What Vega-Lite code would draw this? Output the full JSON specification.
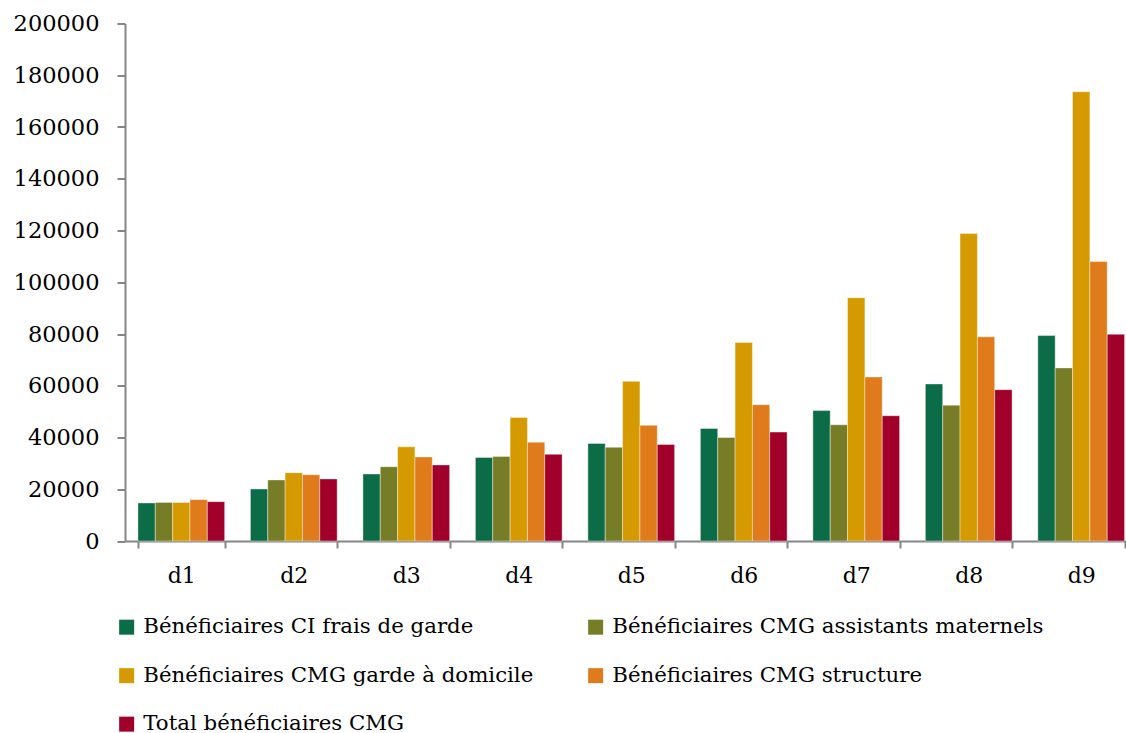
{
  "$schema": "https://vega.github.io/schema/vega-lite/v6.json",
  "autosize": {"type": "none"},
  "width": 1001,
  "height": 517.5,
  "padding": {"left": 125, "top": 23.5, "right": 0, "bottom": 192},
  "background": "white",
  "config": {
    "view": {"stroke": null},
    "font": "DejaVu Serif"
  },
  "data": {
    "values": [
      {"d": "d1", "s": "Bénéficiaires CI frais de garde", "v": 14700},
      {"d": "d1", "s": "Bénéficiaires CMG assistants maternels", "v": 14900},
      {"d": "d1", "s": "Bénéficiaires CMG garde à domicile", "v": 14900},
      {"d": "d1", "s": "Bénéficiaires CMG structure", "v": 16000},
      {"d": "d1", "s": "Total bénéficiaires CMG", "v": 15200},
      {"d": "d2", "s": "Bénéficiaires CI frais de garde", "v": 20100},
      {"d": "d2", "s": "Bénéficiaires CMG assistants maternels", "v": 23600},
      {"d": "d2", "s": "Bénéficiaires CMG garde à domicile", "v": 26400},
      {"d": "d2", "s": "Bénéficiaires CMG structure", "v": 25600},
      {"d": "d2", "s": "Total bénéficiaires CMG", "v": 24000},
      {"d": "d3", "s": "Bénéficiaires CI frais de garde", "v": 25900},
      {"d": "d3", "s": "Bénéficiaires CMG assistants maternels", "v": 28700},
      {"d": "d3", "s": "Bénéficiaires CMG garde à domicile", "v": 36400},
      {"d": "d3", "s": "Bénéficiaires CMG structure", "v": 32500},
      {"d": "d3", "s": "Total bénéficiaires CMG", "v": 29400},
      {"d": "d4", "s": "Bénéficiaires CI frais de garde", "v": 32300},
      {"d": "d4", "s": "Bénéficiaires CMG assistants maternels", "v": 32700},
      {"d": "d4", "s": "Bénéficiaires CMG garde à domicile", "v": 47700},
      {"d": "d4", "s": "Bénéficiaires CMG structure", "v": 38200},
      {"d": "d4", "s": "Total bénéficiaires CMG", "v": 33500},
      {"d": "d5", "s": "Bénéficiaires CI frais de garde", "v": 37700},
      {"d": "d5", "s": "Bénéficiaires CMG assistants maternels", "v": 36200},
      {"d": "d5", "s": "Bénéficiaires CMG garde à domicile", "v": 61700},
      {"d": "d5", "s": "Bénéficiaires CMG structure", "v": 44700},
      {"d": "d5", "s": "Total bénéficiaires CMG", "v": 37300},
      {"d": "d6", "s": "Bénéficiaires CI frais de garde", "v": 43500},
      {"d": "d6", "s": "Bénéficiaires CMG assistants maternels", "v": 40000},
      {"d": "d6", "s": "Bénéficiaires CMG garde à domicile", "v": 76700},
      {"d": "d6", "s": "Bénéficiaires CMG structure", "v": 52700},
      {"d": "d6", "s": "Total bénéficiaires CMG", "v": 42100},
      {"d": "d7", "s": "Bénéficiaires CI frais de garde", "v": 50400},
      {"d": "d7", "s": "Bénéficiaires CMG assistants maternels", "v": 44900},
      {"d": "d7", "s": "Bénéficiaires CMG garde à domicile", "v": 94000},
      {"d": "d7", "s": "Bénéficiaires CMG structure", "v": 63400},
      {"d": "d7", "s": "Total bénéficiaires CMG", "v": 48400},
      {"d": "d8", "s": "Bénéficiaires CI frais de garde", "v": 60700},
      {"d": "d8", "s": "Bénéficiaires CMG assistants maternels", "v": 52500},
      {"d": "d8", "s": "Bénéficiaires CMG garde à domicile", "v": 118800},
      {"d": "d8", "s": "Bénéficiaires CMG structure", "v": 78900},
      {"d": "d8", "s": "Total bénéficiaires CMG", "v": 58500},
      {"d": "d9", "s": "Bénéficiaires CI frais de garde", "v": 79400},
      {"d": "d9", "s": "Bénéficiaires CMG assistants maternels", "v": 66900},
      {"d": "d9", "s": "Bénéficiaires CMG garde à domicile", "v": 173600},
      {"d": "d9", "s": "Bénéficiaires CMG structure", "v": 108000},
      {"d": "d9", "s": "Total bénéficiaires CMG", "v": 79900}
    ]
  },
  "mark": {"type": "bar", "stroke": "#ffffff", "strokeWidth": 0.8, "strokeOpacity": 0.5},
  "encoding": {
    "x": {
      "field": "d",
      "type": "nominal",
      "scale": {"range": [0, 1012.5], "paddingInner": 0.229, "paddingOuter": 0.115},
      "axis": {
        "title": null,
        "labelAngle": 0,
        "labelFont": "DejaVu Serif",
        "labelFontSize": 22,
        "labelColor": "#000000",
        "labelPadding": 17,
        "tickBand": "extent",
        "tickSize": 7,
        "tickWidth": 2,
        "tickColor": "#868686",
        "domainColor": "#868686",
        "domainWidth": 2
      }
    },
    "xOffset": {
      "field": "s",
      "type": "nominal",
      "sort": null,
      "scale": {"paddingInner": 0, "paddingOuter": 0}
    },
    "y": {
      "field": "v",
      "type": "quantitative",
      "scale": {"domain": [0, 200000], "nice": false},
      "axis": {
        "title": null,
        "values": [0, 20000, 40000, 60000, 80000, 100000, 120000, 140000, 160000, 180000, 200000],
        "format": "d",
        "grid": false,
        "labelFont": "DejaVu Serif",
        "labelFontSize": 22.5,
        "labelColor": "#000000",
        "labelPadding": 18,
        "tickSize": 8,
        "tickWidth": 2,
        "tickColor": "#868686",
        "domainColor": "#868686",
        "domainWidth": 2
      }
    },
    "color": {
      "field": "s",
      "type": "nominal",
      "sort": null,
      "scale": {
        "domain": ["Bénéficiaires CI frais de garde", "Bénéficiaires CMG assistants maternels", "Bénéficiaires CMG garde à domicile", "Bénéficiaires CMG structure", "Total bénéficiaires CMG"],
        "range": ["#0c6c48", "#777c26", "#d59a00", "#e07b1b", "#a0002a"]
      },
      "legend": {
        "title": null,
        "orient": "none",
        "legendX": -9,
        "legendY": 593,
        "direction": "horizontal",
        "columns": 2,
        "columnPadding": 51,
        "rowPadding": 26.5,
        "symbolType": "square",
        "symbolSize": 225,
        "symbolStrokeWidth": 0,
        "symbolOffset": 0,
        "labelOffset": 6,
        "labelFont": "DejaVu Serif",
        "labelFontSize": 21.3,
        "labelColor": "#000000",
        "labelLimit": 0,
        "padding": 0
      }
    }
  }
}
